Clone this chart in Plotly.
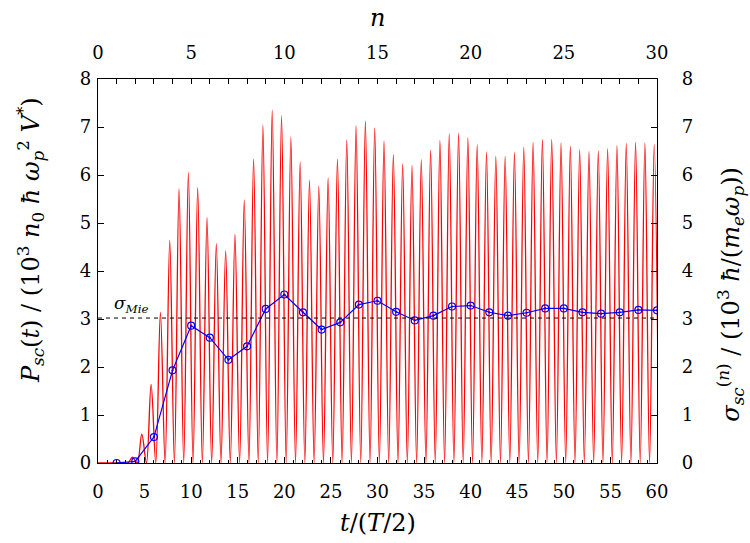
import plotly.graph_objects as go

# Scattered power P_sc(t): height of each half-period pulse (one pulse per unit of t/(T/2))
pulse_peak_t0 = 0.7          # time of the first pulse maximum
pulse_trough_t0 = 0.2        # time of the first pulse minimum
pulse_peaks = [
    0.00, 0.00, 0.01, 0.12, 0.60, 1.64, 3.14, 4.64, 5.71, 6.05,
    5.73, 5.11, 4.57, 4.42, 4.76, 5.48, 6.33, 7.04, 7.35, 7.23,
    6.79, 6.27, 5.89, 5.77, 5.94, 6.33, 6.73, 7.03, 7.12, 6.98,
    6.71, 6.43, 6.23, 6.20, 6.32, 6.52, 6.72, 6.86, 6.87, 6.78,
    6.63, 6.48, 6.39, 6.39, 6.47, 6.58, 6.68, 6.74, 6.74, 6.67,
    6.60, 6.53, 6.49, 6.50, 6.55, 6.61, 6.66, 6.68, 6.67, 6.63,
]

# Cycle-averaged scattering cross section sigma_sc^(n) for cycle n
cycles = list(range(1, 31))
sigma_n = [
    0.00, 0.035, 0.54, 1.93, 2.86, 2.61, 2.15, 2.43, 3.21, 3.51,
    3.14, 2.78, 2.93, 3.30, 3.38, 3.15, 2.97, 3.07, 3.26, 3.28,
    3.14, 3.07, 3.13, 3.22, 3.22, 3.14, 3.11, 3.14, 3.19, 3.18,
]

SIGMA_MIE = 3.02

# Pulse train: minima (zero) alternate with the pulse maxima
t_pts, p_pts = [0.0], [0.0]
for k, peak in enumerate(pulse_peaks):
    t_pts += [pulse_trough_t0 + k, pulse_peak_t0 + k]
    p_pts += [0.0, peak]
t_pts.append(pulse_trough_t0 + len(pulse_peaks))
p_pts.append(0.0)

FONT = "DejaVu Serif"
TICK = dict(family=FONT, size=18, color="black")

fig = go.Figure()
fig.add_trace(go.Scatter(
    x=t_pts, y=p_pts, mode="lines",
    line=dict(color="#ff0000", width=1.3, shape="spline", smoothing=1.0),
    xaxis="x", yaxis="y", showlegend=False, hoverinfo="skip",
))
fig.add_trace(go.Scatter(
    x=cycles, y=sigma_n, mode="lines+markers",
    line=dict(color="#0000ff", width=1.2),
    marker=dict(symbol="circle-open-dot", size=7, color="#0000ff",
                line=dict(color="#0000ff", width=1.2)),
    xaxis="x2", yaxis="y2", showlegend=False,
))

fig.add_hline(y=SIGMA_MIE, line=dict(color="black", width=1, dash="4px,4px"),
              xref="x", yref="y", layer="above")

axis_common = dict(showgrid=False, zeroline=False, showline=True,
                   linecolor="black", linewidth=1.2, ticks="inside",
                   tickcolor="black", tickwidth=1, tickfont=TICK)

fig.update_layout(
    width=750, height=543,
    margin=dict(l=98, r=93, t=79, b=80),
    paper_bgcolor="white", plot_bgcolor="white",
    font=dict(family=FONT, color="black", size=18),
    xaxis=dict(axis_common, range=[0, 60], dtick=5, tick0=0, ticklen=6,
               minor=dict(dtick=1, ticklen=3, ticks="inside", tickcolor="black"),
               ticklabelstandoff=12, side="bottom"),
    xaxis2=dict(axis_common, range=[0, 30], dtick=5, tick0=0, ticklen=5,
                minor=dict(dtick=1, ticklen=5, ticks="inside", tickcolor="black"),
                overlaying="x", side="top", anchor="y", ticklabelstandoff=12),
    yaxis=dict(axis_common, range=[0, 8], dtick=1, tick0=0, ticklen=6,
               ticklabelstandoff=2),
    yaxis2=dict(axis_common, range=[0, 8], dtick=1, tick0=0, ticklen=6,
                overlaying="y", side="right", anchor="x", ticklabelstandoff=20),
)

title_font = dict(family=FONT, size=24, color="black")
fig.add_annotation(
    text="<i>t</i>/(<i>T</i>/2)", xref="paper", yref="paper",
    x=0.5, y=-0.155, xanchor="center", yanchor="middle",
    showarrow=False, font=title_font,
)
fig.add_annotation(
    text="<i>n</i>", xref="paper", yref="paper",
    x=0.5, y=1.16, xanchor="center", yanchor="middle",
    showarrow=False, font=title_font,
)
fig.add_annotation(
    text="<i>P</i><sub><i>sc</i></sub>(<i>t</i>) / (10<sup>3</sup> <i>n</i><sub>0</sub> <i>ħ</i> "
         "<i>ω</i><sub><i>p</i></sub><sup>2</sup> <i>V</i><sup>*</sup>)",
    xref="paper", yref="paper", x=-0.122, y=0.58, textangle=-90,
    xanchor="center", yanchor="middle", showarrow=False, font=title_font,
)
fig.add_annotation(
    text="<i>σ</i><sub><i>sc</i></sub><sup>(<i>n</i>)</sup> / (10<sup>3</sup> "
         "<i>ħ</i>/(<i>m</i><sub><i>e</i></sub><i>ω</i><sub><i>p</i></sub>))",
    xref="paper", yref="paper", x=1.13, y=0.44, textangle=-90,
    xanchor="center", yanchor="middle", showarrow=False, font=title_font,
)
fig.add_annotation(
    text="<i>σ</i><sub><i>Mie</i></sub>", xref="x", yref="y",
    x=1.5, y=SIGMA_MIE, xanchor="left", yanchor="bottom",
    showarrow=False, font=dict(family=FONT, size=17, color="black"),
)

fig.write_html("out.html")
